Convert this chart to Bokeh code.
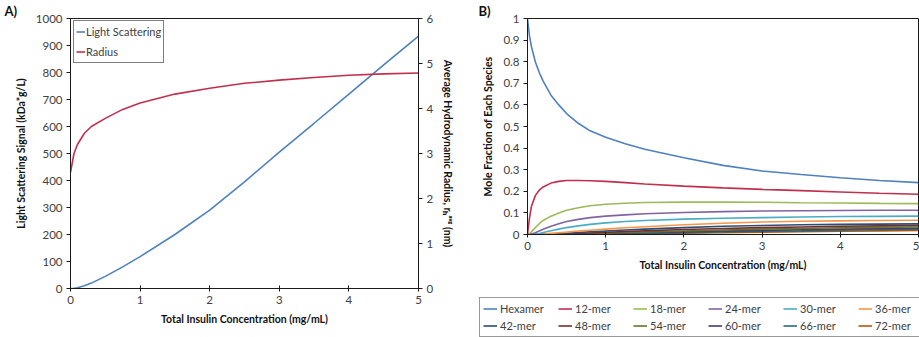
from bokeh.plotting import figure
from bokeh.models import (Range1d, LinearAxis, Legend, LegendItem, FixedTicker,
                          NumeralTickFormatter, Title)
from bokeh.layouts import row, column
from bokeh.embed import file_html
from bokeh.resources import INLINE

# ---------------- Panel A data ----------------
conc_a = [0, 0.05, 0.1, 0.2, 0.3, 0.5, 0.75, 1.0, 1.5, 2.0, 2.5, 3.0, 3.5, 4.0, 4.5, 5.0]
light_scattering = [0, 1, 3, 10, 20, 45, 80, 118, 200, 290, 395, 505, 612, 720, 828, 935]
radius = [2.58, 3.0, 3.2, 3.45, 3.6, 3.78, 3.98, 4.12, 4.32, 4.45, 4.56, 4.63, 4.69, 4.74, 4.77, 4.79]

# ---------------- Panel B data ----------------
conc_b = [0, 0.025, 0.05, 0.1, 0.15, 0.2, 0.3, 0.4, 0.5, 0.65, 0.8, 1.0, 1.25, 1.5,
          2.0, 2.5, 3.0, 3.5, 4.0, 4.5, 5.0]
species = ["Hexamer", "12-mer", "18-mer", "24-mer", "30-mer", "36-mer",
           "42-mer", "48-mer", "54-mer", "60-mer", "66-mer", "72-mer"]
hexamer = [1.0, 0.92, 0.87, 0.80, 0.75, 0.71, 0.645, 0.60, 0.56, 0.515, 0.48, 0.45, 0.42, 0.395,
           0.355, 0.32, 0.294, 0.278, 0.263, 0.25, 0.24]
mer12 = [0, 0.075, 0.13, 0.18, 0.205, 0.22, 0.238, 0.246, 0.25, 0.25, 0.249, 0.246, 0.24, 0.234,
         0.224, 0.216, 0.209, 0.203, 0.197, 0.191, 0.186]
mer18 = [0, 0.005, 0.012, 0.032, 0.05, 0.065, 0.085, 0.1, 0.112, 0.124, 0.133, 0.14, 0.145, 0.148,
         0.15, 0.15, 0.149, 0.147, 0.146, 0.144, 0.143]
mer24 = [0, 0.001, 0.002, 0.008, 0.016, 0.024, 0.038, 0.05, 0.06, 0.07, 0.078, 0.085, 0.091, 0.096,
         0.102, 0.106, 0.109, 0.11, 0.111, 0.112, 0.112]
mer30 = [0, 0, 0, 0.002, 0.005, 0.009, 0.017, 0.025, 0.032, 0.04, 0.047, 0.054, 0.06, 0.065,
         0.071, 0.075, 0.078, 0.081, 0.083, 0.084, 0.085]
mer36 = [0, 0, 0, 0.0005, 0.001, 0.002, 0.005, 0.008, 0.011, 0.016, 0.02, 0.025, 0.031, 0.036,
         0.045, 0.052, 0.058, 0.061, 0.063, 0.065, 0.066]
mer42 = [0, 0, 0, 0, 0.0005, 0.001, 0.002, 0.004, 0.006, 0.009, 0.012, 0.016, 0.021, 0.025,
         0.032, 0.038, 0.042, 0.045, 0.047, 0.048, 0.049]
mer48 = [0, 0, 0, 0, 0, 0.0005, 0.001, 0.002, 0.003, 0.005, 0.007, 0.01, 0.014, 0.017,
         0.023, 0.028, 0.032, 0.035, 0.038, 0.040, 0.042]
mer54 = [0, 0, 0, 0, 0, 0, 0.0005, 0.001, 0.002, 0.003, 0.004, 0.006, 0.009, 0.011,
         0.016, 0.021, 0.025, 0.028, 0.031, 0.033, 0.035]
mer60 = [0, 0, 0, 0, 0, 0, 0, 0.0005, 0.001, 0.0015, 0.002, 0.004, 0.006, 0.008,
         0.012, 0.016, 0.019, 0.022, 0.025, 0.027, 0.029]
mer66 = [0, 0, 0, 0, 0, 0, 0, 0, 0.0005, 0.001, 0.0015, 0.002, 0.004, 0.005,
         0.008, 0.012, 0.015, 0.017, 0.02, 0.022, 0.024]
mer72 = [0, 0, 0, 0, 0, 0, 0, 0, 0, 0.0005, 0.001, 0.0015, 0.002, 0.003,
         0.006, 0.008, 0.011, 0.013, 0.015, 0.017, 0.019]
fractions = [hexamer, mer12, mer18, mer24, mer30, mer36, mer42, mer48, mer54, mer60, mer66, mer72]

# ---------------- ticks / labels ----------------
conc_ticks = [0, 1, 2, 3, 4, 5]
ls_ticks = [0, 100, 200, 300, 400, 500, 600, 700, 800, 900, 1000]
radius_ticks = [0, 1, 2, 3, 4, 5, 6]
mf_ticks = [0, 0.1, 0.2, 0.3, 0.4, 0.5, 0.6, 0.7, 0.8, 0.9, 1]
x_title = "Total Insulin Concentration (mg/mL)"
ls_title = "Light Scattering Signal (kDa*g/L)"
radius_title = "Average Hydrodynamic Radius, r\u2095\u1d43\u1d5b\u1d4d (nm)"
mf_title = "Mole Fraction of Each Species"

FONT = "Lato"
TICK_COLOR = "#404040"
AXIS_COLOR = "#1a1a1a"
series_colors = ["#4F81BD", "#C0304D", "#9BBB59", "#8064A2", "#4BACC6", "#F79646",
                 "#2C4D75", "#772C2A", "#5F7530", "#4D3B62", "#276A7C", "#B65708"]


def style_axis(ax, ticks, tick_in=0, tick_out=4):
    ax.ticker = FixedTicker(ticks=ticks)
    ax.minor_tick_line_color = None
    ax.major_tick_in = tick_in
    ax.major_tick_out = tick_out
    ax.major_tick_line_color = AXIS_COLOR
    ax.axis_line_color = AXIS_COLOR
    ax.major_label_text_font = FONT
    ax.major_label_text_font_size = "11.5px"
    ax.major_label_text_color = TICK_COLOR
    ax.major_label_standoff = 4
    ax.axis_label_text_font = FONT
    ax.axis_label_text_font_size = "10.5px"
    ax.axis_label_text_font_style = "bold"
    ax.axis_label_text_color = "#111111"
    ax.axis_label_standoff = 6


def panel_title(text, offset):
    return Title(text=text, align="left", offset=offset, standoff=0,
                 text_font=FONT, text_font_size="13px", text_font_style="bold",
                 text_color="#111111")


# ================= Panel A =================
pA = figure(frame_width=348, frame_height=270, output_backend="svg", toolbar_location=None,
            x_range=Range1d(0, 5), y_range=Range1d(0, 1000),
            min_border_left=70, min_border_right=42, min_border_top=16, min_border_bottom=49)
pA.title = panel_title("A)", -66)
pA.extra_y_ranges = {"r": Range1d(0, 6)}
pA.grid.visible = False
pA.outline_line_color = AXIS_COLOR
pA.background_fill_color = "white"
pA.border_fill_color = "white"

style_axis(pA.xaxis[0], conc_ticks, tick_in=3, tick_out=3)
pA.xaxis[0].axis_label = x_title
style_axis(pA.yaxis[0], ls_ticks)
pA.yaxis[0].axis_label = ls_title
raxis = LinearAxis(y_range_name="r", axis_label=radius_title)
style_axis(raxis, radius_ticks)
pA.add_layout(raxis, "right")

rA1 = pA.line(conc_a, light_scattering, line_color=series_colors[0], line_width=1.6)
rA2 = pA.line(conc_a, radius, y_range_name="r", line_color=series_colors[1], line_width=1.6)

legA = Legend(items=[LegendItem(label="Light Scattering", renderers=[rA1]),
                     LegendItem(label="Radius", renderers=[rA2])],
              location=(3, 225), padding=2, spacing=3, margin=0,
              glyph_width=9, glyph_height=17, label_height=17, label_standoff=1,
              label_text_font=FONT, label_text_font_size="11px", label_text_color=TICK_COLOR,
              border_line_color="black", border_line_width=1, background_fill_alpha=1)
pA.add_layout(legA)

# ================= Panel B =================
pB = figure(frame_width=391, frame_height=216, output_backend="svg", toolbar_location=None,
            x_range=Range1d(0, 5), y_range=Range1d(0, 1),
            min_border_left=67, min_border_right=1, min_border_top=16, min_border_bottom=50)
pB.title = panel_title("B)", -49)
pB.grid.visible = False
pB.outline_line_color = AXIS_COLOR
pB.background_fill_color = "white"
pB.border_fill_color = "white"

style_axis(pB.xaxis[0], conc_ticks, tick_in=3, tick_out=3)
pB.xaxis[0].axis_label = x_title
style_axis(pB.yaxis[0], mf_ticks)
pB.yaxis[0].formatter = NumeralTickFormatter(format="0.[0]")
pB.yaxis[0].axis_label = mf_title

for vals, col in reversed(list(zip(fractions, series_colors))):
    pB.line(conc_b, vals, line_color=col, line_width=1.6)

# ---- legend strip for panel B (own small canvas under panel B; its lines lie
#      outside its view range so only the legend shows) ----
pL = figure(width=459, height=53, output_backend="svg", toolbar_location=None,
            x_range=Range1d(0, 5), y_range=Range1d(2, 3),
            min_border_left=0, min_border_right=0, min_border_top=0, min_border_bottom=0)
pL.axis.visible = False
pL.grid.visible = False
pL.outline_line_color = None
pL.background_fill_color = "white"
pL.border_fill_color = "white"

itemsL = []
for name, vals, col in zip(species, fractions, series_colors):
    r = pL.line(conc_b, vals, line_color=col, line_width=1.6)
    itemsL.append(LegendItem(label=name, renderers=[r]))

legB = Legend(items=itemsL, orientation="horizontal", ncols=6,
              location=(19, 0), padding=3, spacing=2, margin=0,
              glyph_width=14, glyph_height=15, label_height=15, label_width=56,
              label_standoff=3,
              label_text_font=FONT, label_text_font_size="11px", label_text_color=TICK_COLOR,
              border_line_color="#333333", border_line_width=1.5, background_fill_alpha=1)
pL.add_layout(legB)

layout = row(pA, column(pB, row(pL, spacing=0), spacing=0), spacing=0)
open("out.html", "w").write(file_html(layout, INLINE))
